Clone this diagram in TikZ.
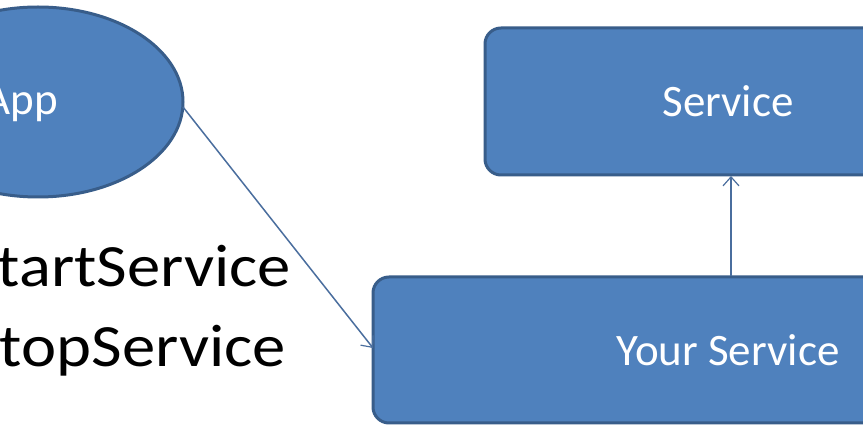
\documentclass[tikz,border=0pt]{standalone}
\usepackage{fontspec}
\setmainfont{Carlito}
\newfontfamily\widefont[FakeStretch=1.11]{Carlito}
\usetikzlibrary{arrows.meta,shapes.geometric}
\definecolor{boxfill}{HTML}{4F81BD}
\definecolor{boxline}{HTML}{385D8A}
\definecolor{arrowcol}{HTML}{4A6E9E}
\tikzset{
  shapestyle/.style={fill=boxfill, draw=boxline, line width=3pt},
  conn/.style={draw=arrowcol, line width=1.5pt, -{Straight Barb[length=9pt,width=16pt,line width=1.2pt]}},
  whitetext/.style={text=white, font=\fontsize{45}{50}\selectfont},
  bigtext/.style={text=black, font=\widefont\fontsize{60}{66}\selectfont, anchor=base east, inner sep=0pt}
}
\begin{document}
\begin{tikzpicture}[x=1pt,y=-1pt]
\useasboundingbox (0,0) rectangle (863,430);
\clip (0,0) rectangle (863,430);
\fill[white] (0,0) rectangle (863,430);
% ellipse App
\node[shapestyle, ellipse, minimum width=290pt, minimum height=190pt, inner sep=0pt] (app) at (38,102) {};
\node[whitetext, anchor=base, inner sep=0pt] (apptext) at (21,115) {App};
% Service box
\node[shapestyle, rounded corners=16pt, minimum width=486pt, minimum height=147pt, inner sep=0pt] (service) at (728,101.5) {};
\node[whitetext, inner sep=0pt, anchor=base] (servicetext) at (728,117) {Service};
% Your Service box
\node[shapestyle, rounded corners=16pt, minimum width=710pt, minimum height=146pt, inner sep=0pt] (your) at (728,350) {};
\node[whitetext, inner sep=0pt, anchor=base] (yourtext) at (728,366) {Your Service};
% connectors
\coordinate (append) at (183,107);
\coordinate (yourin) at (373,348);
\draw[conn] (append) -- (yourin);
\coordinate (vs) at (731,276);
\coordinate (ve) at (731,176);
\draw[conn] (vs) -- (ve);
% labels
\node[bigtext] (start) at (291,287) {startService};
\node[bigtext] (stop) at (286,367) {stopService};
\end{tikzpicture}
\end{document}
